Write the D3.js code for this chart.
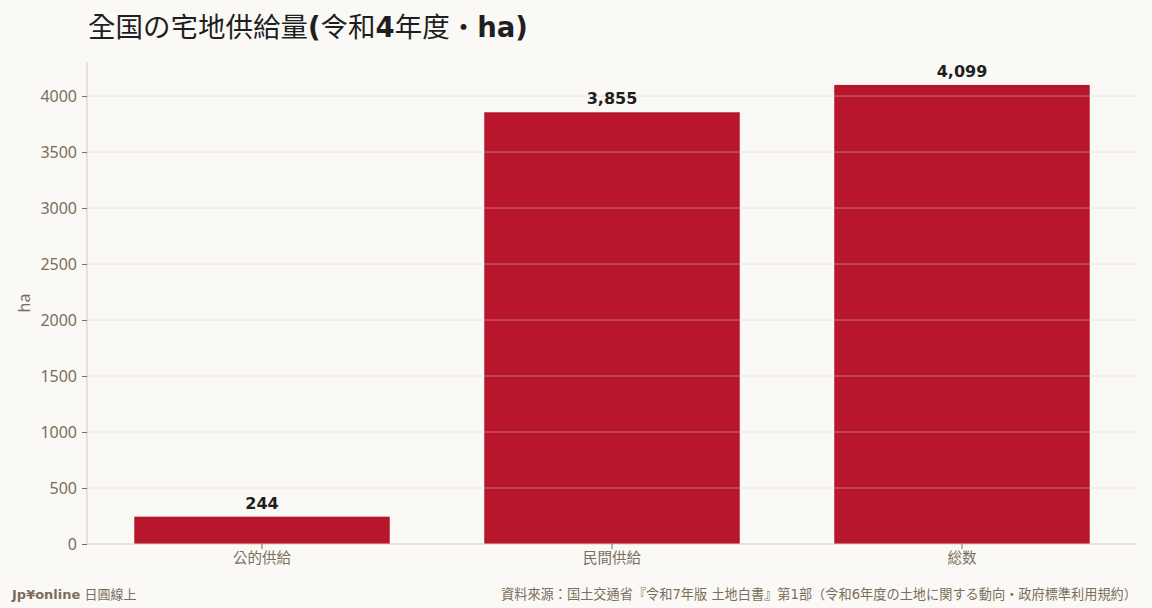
<!DOCTYPE html>
<html>
<head>
<meta charset="utf-8">
<script src="https://cdn.jsdelivr.net/npm/d3@7"></script>
<style>
  body { margin: 0; background: #faf9f5; }
  svg { display: block; font-family: "DejaVu Sans", "Noto Sans CJK TC", sans-serif; }
</style>
</head>
<body>
<div id="chart"></div>
<script>
// data
var categories = ["公的供給", "民間供給", "総数"];
var values = [244, 3855, 4099];
var yTicks = [0, 500, 1000, 1500, 2000, 2500, 3000, 3500, 4000];

var W = 1152, H = 608;
var margin = { top: 62, right: 15, bottom: 64, left: 87 };
var width = W - margin.left - margin.right;
var height = H - margin.top - margin.bottom;

var tickFont = "'Noto Sans', 'Noto Sans CJK TC', sans-serif";

var svg = d3.select("#chart").append("svg")
    .attr("width", W)
    .attr("height", H);

svg.append("rect").attr("width", W).attr("height", H).attr("fill", "#faf9f5");

var g = svg.append("g")
    .attr("transform", "translate(" + margin.left + "," + margin.top + ")");

var x = d3.scaleBand()
    .domain(categories)
    .range([0, width])
    .paddingInner(0.27)
    .paddingOuter(0.135);

var y = d3.scaleLinear()
    .domain([0, d3.max(values) * 1.05])
    .range([height, 0]);

// bars
g.selectAll("rect.bar")
    .data(values)
    .enter().append("rect")
    .attr("class", "bar")
    .attr("x", function(d, i) { return x(categories[i]); })
    .attr("y", function(d) { return y(d); })
    .attr("width", x.bandwidth())
    .attr("height", function(d) { return height - y(d); })
    .attr("fill", "#b8162c");

// grid (drawn over bars)
g.selectAll("line.grid")
    .data(yTicks.slice(1))
    .enter().append("line")
    .attr("class", "grid")
    .attr("x1", 0).attr("x2", width)
    .attr("y1", function(d) { return y(d); })
    .attr("y2", function(d) { return y(d); })
    .attr("stroke", "#d8d2bf")
    .attr("stroke-opacity", 0.6)
    .attr("stroke-width", 0.8);

// value labels
g.selectAll("text.val")
    .data(values)
    .enter().append("text")
    .attr("class", "val")
    .attr("x", function(d, i) { return x(categories[i]) + x.bandwidth() / 2; })
    .attr("y", function(d) { return y(d) - 8; })
    .attr("text-anchor", "middle")
    .attr("font-size", 16)
    .attr("font-weight", "bold")
    .attr("fill", "#1f1f1f")
    .text(function(d) { return d3.format(",")(d); });

// axes
var axisColor = "#d3ccb8";
var textColor = "#7a6e5a";

var yAxis = g.append("g")
    .call(d3.axisLeft(y).tickValues(yTicks).tickSize(5).tickPadding(5).tickFormat(d3.format("d")));
var xAxis = g.append("g")
    .attr("transform", "translate(0," + height + ")")
    .call(d3.axisBottom(x).tickSize(5).tickPadding(4));

[yAxis, xAxis].forEach(function(a) {
    a.select(".domain").attr("stroke", axisColor);
    a.selectAll(".tick line").attr("stroke", textColor);
    a.selectAll(".tick text")
        .attr("fill", textColor)
        .attr("font-size", 16)
        .attr("font-family", tickFont);
});
xAxis.selectAll(".tick text").attr("font-size", 14.5);
yAxis.select(".domain").attr("d", "M0," + height + "V0");
xAxis.select(".domain").attr("d", "M0,0H" + width);

// y label
svg.append("text")
    .attr("transform", "translate(30," + (margin.top + height / 2) + ") rotate(-90)")
    .attr("text-anchor", "middle")
    .attr("font-size", 16)
    .attr("font-family", tickFont)
    .attr("fill", textColor)
    .text("ha");

// title: latin parts bold, CJK parts regular
var titleParts = [["全国の宅地供給量", false], ["(", true], ["令和", false], ["4", true], ["年度・", false], ["ha)", true]];
var title = svg.append("text")
    .attr("x", 88)
    .attr("y", 37)
    .attr("font-size", 27.5)
    .attr("fill", "#1f1f1f");
titleParts.forEach(function(p) {
    title.append("tspan")
        .attr("font-weight", p[1] ? "bold" : "normal")
        .attr("font-family", p[1] ? "'DejaVu Sans', sans-serif" : "'Noto Sans CJK TC', sans-serif")
        .text(p[0]);
});

// footer
var left = svg.append("text")
    .attr("x", 12)
    .attr("y", 599)
    .attr("font-size", 13)
    .attr("fill", textColor);
left.append("tspan").attr("font-weight", "bold").text("Jp¥online");
left.append("tspan").text(" 日圓線上");

svg.append("text")
    .attr("x", 1137)
    .attr("y", 599)
    .attr("text-anchor", "end")
    .attr("font-size", 13.2)
    .attr("font-family", "'DejaVu Sans', 'Noto Sans CJK TC', sans-serif")
    .attr("fill", textColor)
    .text("資料來源：国土交通省『令和7年版 土地白書』第1部（令和6年度の土地に関する動向・政府標準利用規約）");
</script>
</body>
</html>
